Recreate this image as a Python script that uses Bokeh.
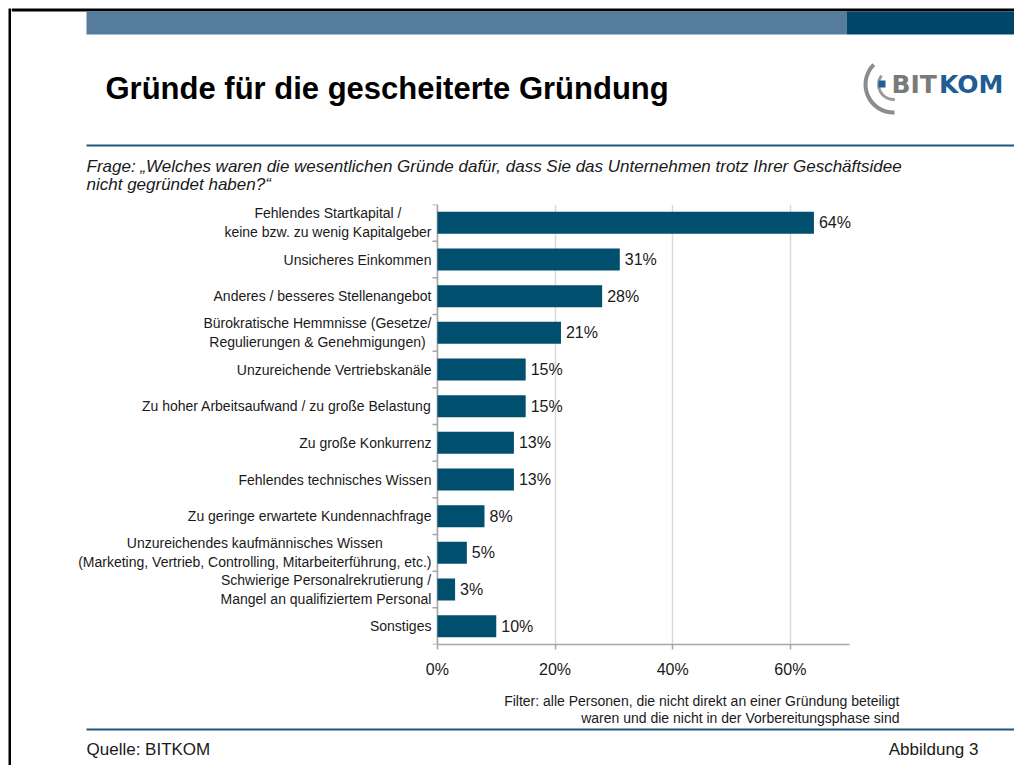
import math
from bokeh.plotting import figure
from bokeh.layouts import column, row
from bokeh.models import Range1d, FixedTicker, PrintfTickFormatter, ColumnDataSource
from bokeh.core.properties import value
from bokeh.embed import file_html
from bokeh.resources import INLINE

# ---------------- data ----------------
categories = [
    "Fehlendes Startkapital /\nkeine bzw. zu wenig Kapitalgeber",
    "Unsicheres Einkommen",
    "Anderes / besseres Stellenangebot",
    "Bürokratische Hemmnisse (Gesetze/\nRegulierungen & Genehmigungen)",
    "Unzureichende Vertriebskanäle",
    "Zu hoher Arbeitsaufwand / zu große Belastung",
    "Zu große Konkurrenz",
    "Fehlendes technisches Wissen",
    "Zu geringe erwartete Kundennachfrage",
    "Unzureichendes kaufmännisches Wissen\n(Marketing, Vertrieb, Controlling, Mitarbeiterführung, etc.)",
    "Schwierige Personalrekrutierung /\nMangel an qualifiziertem Personal",
    "Sonstiges",
]
values = [64, 31, 28, 21, 15, 15, 13, 13, 8, 5, 3, 10]
x_ticks = [0, 20, 40, 60]
x_axis_max = 70

title_text = "Gründe für die gescheiterte Gründung"
question_lines = [
    "Frage: „Welches waren die wesentlichen Gründe dafür, dass Sie das Unternehmen trotz Ihrer Geschäftsidee",
    "nicht gegründet haben?“",
]
filter_lines = [
    "Filter: alle Personen, die nicht direkt an einer Gründung beteiligt",
    "waren und die nicht in der Vorbereitungsphase sind",
]
source_text = "Quelle: BITKOM"
figure_text = "Abbildung 3"

# ---------------- style / layout ----------------
FONT = value("Liberation Sans")
BAR = "#004f6e"
TXT = "#1a1a1a"
AXIS = "#a6a6a6"
GRID = "#d9d9d9"
RULE = "#1f5878"

PX_PER_UNIT = 353 / 60          # horizontal scale of the value axis (pixels per percent)
LABEL_AREA = 437 - 11           # pixels left of the value 0 inside the chart figure
X_END = 76                      # right end of the plotting frame (room for the value labels)


def deco_fig(w, h, x0, x1, y0, y1, **kw):
    f = figure(width=w, height=h, x_range=Range1d(x0, x1), y_range=Range1d(y1, y0),
               output_backend="svg", toolbar_location=None, min_border=0,
               x_axis_location=None, y_axis_location=None, **kw)
    f.xgrid.visible = False
    f.ygrid.visible = False
    f.outline_line_color = None
    f.background_fill_color = "white"
    f.border_fill_color = "white"
    return f


# left margin with black frame line
strip = deco_fig(11, 765, 0, 11, 0, 765)
strip.quad(left=[8], right=[11], top=[8], bottom=[765], color="black", line_color=None)

# ---------------- header ----------------
top = deco_fig(1003, 198, 11, 1014, 0, 198)
top.quad(left=[11], right=[1014], top=[8], bottom=[11], color="black", line_color=None)
top.quad(left=[86], right=[846], top=[11], bottom=[34], color="#557c9b", line_color=None)
top.quad(left=[846], right=[1014], top=[11], bottom=[34], color="#00466b", line_color=None)
top.text(x=[105], y=[88], text=[title_text], text_font=FONT, text_font_size="31px",
         text_font_style="bold", text_baseline="middle", text_color="black")
# logo
top.arc(x=[893], y=[84], radius=28, radius_units="screen", start_angle=2.35, end_angle=4.75,
        direction="anticlock", line_width=4, line_color="#8c8c8c")
top.arc(x=[893], y=[84], radius=15, radius_units="screen", start_angle=2.5, end_angle=4.8,
        direction="anticlock", line_width=3, line_color="#9a9a9a")
top.quad(left=[878], right=[885], top=[80], bottom=[87], color="#1f5f95", line_color=None)
top.text(x=[891], y=[84], text=["BIT"], text_font=value("DejaVu Sans"), text_font_size="25px",
         text_font_style="bold", text_baseline="middle", text_color="#7a7a7a")
top.text(x=[1003], y=[84], text=["KOM"], text_font=value("DejaVu Sans"), text_font_size="25px",
         text_font_style="bold", text_baseline="middle", text_align="right", text_color="#1d5d91")
top.line(x=[86, 1014], y=[145, 145], line_width=2, line_color=RULE)
top.text(x=[86, 86], y=[166, 184], text=question_lines, text_font=FONT, text_font_size="17px",
         text_font_style="italic", text_baseline="middle", text_color=TXT)

# ---------------- chart ----------------
idx = list(range(len(categories)))
bounds = [i - 0.5 for i in range(len(categories) + 1)]
src = ColumnDataSource(dict(
    y=idx, v=values, cat=categories, lab=[f"{v}%" for v in values],
))
yr = Range1d(len(categories) - 0.5, -0.5)
xr = Range1d(-LABEL_AREA / PX_PER_UNIT, X_END)

p = figure(width=1003, height=487, x_range=xr, y_range=yr,
           output_backend="svg", toolbar_location=None, y_axis_location=None,
           min_border_left=0, min_border_right=130, min_border_top=6, min_border_bottom=41)
p.outline_line_color = None
p.ygrid.visible = False
p.xgrid.ticker = FixedTicker(ticks=x_ticks)
p.xgrid.grid_line_color = GRID
p.xgrid.grid_line_width = 1.5

# category axis line and Excel-style boundary ticks
p.segment(x0=0, x1=0, y0=bounds[0], y1=bounds[-1], line_color=AXIS, line_width=1.5)
p.ray(x=0, y=bounds, length=5, length_units="screen", angle=math.pi,
      line_color=AXIS, line_width=1.5)

# category labels (lines centred, block right-aligned next to the axis)
p.text(x=0, y="y", text="cat", source=src, x_offset=-6, anchor="center_right",
       text_align="center", text_baseline="middle", text_font=FONT, text_font_size="14px",
       text_line_height=1.2, text_color=TXT)

p.hbar(y="y", right="v", left=0, height=0.6, source=src, color=BAR, line_color=None)
p.text(x="v", y="y", text="lab", source=src, x_offset=5, text_baseline="middle",
       text_font=FONT, text_font_size="16px", text_color=TXT)

xa = p.xaxis[0]
xa.ticker = FixedTicker(ticks=x_ticks)
xa.formatter = PrintfTickFormatter(format="%d%%")
xa.bounds = (0, x_axis_max)
xa.axis_line_color = AXIS
xa.axis_line_width = 1.5
xa.major_tick_line_color = AXIS
xa.major_tick_line_width = 1.5
xa.major_tick_out = 5
xa.major_tick_in = 0
xa.minor_tick_line_color = None
xa.major_label_text_font = "Liberation Sans"
xa.major_label_text_font_size = "16px"
xa.major_label_text_color = TXT
xa.major_label_standoff = 11

# ---------------- footer ----------------
bot = deco_fig(1003, 80, 11, 1014, 685, 765)
bot.text(x=[899, 899], y=[700, 717], text=filter_lines, text_font=FONT, text_font_size="14px",
         text_align="right", text_baseline="middle", text_color=TXT)
bot.line(x=[86, 1014], y=[729, 729], line_width=2, line_color=RULE)
bot.text(x=[86], y=[749], text=[source_text], text_font=FONT, text_font_size="17px",
         text_baseline="middle", text_color=TXT)
bot.text(x=[978], y=[749], text=[figure_text], text_font=FONT, text_font_size="17px",
         text_align="right", text_baseline="middle", text_color=TXT)

layout = row(strip, column(top, row(p), bot))
open("out.html", "w").write(file_html(layout, INLINE))
